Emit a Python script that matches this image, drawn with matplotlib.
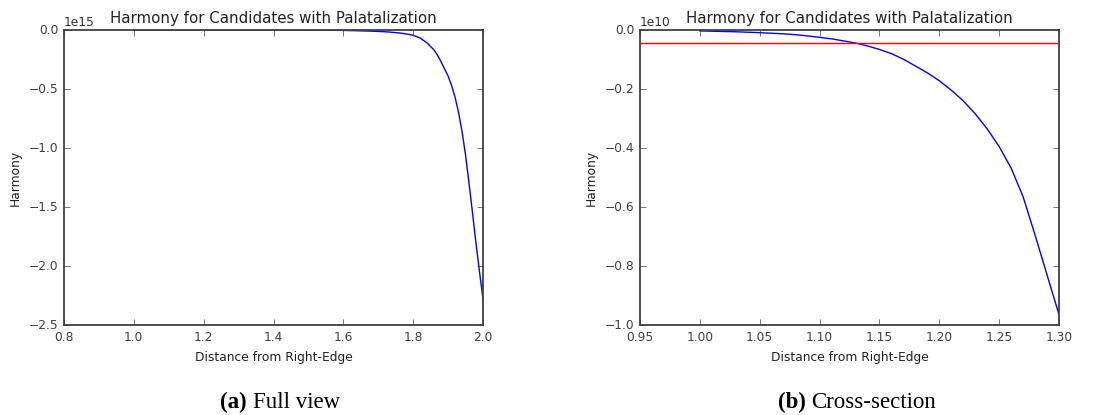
import matplotlib
matplotlib.use("Agg")
import matplotlib.pyplot as plt
import numpy as np

# values
full_x = [1.00, 1.10, 1.20, 1.30, 1.40, 1.50, 1.55, 1.60, 1.65, 1.70, 1.73,
          1.76, 1.78, 1.80, 1.82, 1.84, 1.85, 1.86, 1.87, 1.88, 1.89, 1.90,
          1.91, 1.92, 1.93, 1.94, 1.95, 1.96, 1.97, 1.98, 1.99, 2.00]
full_y = [0.0, -0.000002, -0.00001, -0.00005, -0.0003, -0.001, -0.002,
          -0.0035, -0.007, -0.012, -0.017, -0.025, -0.033, -0.045, -0.068,
          -0.11, -0.14, -0.17, -0.215, -0.27, -0.33, -0.39, -0.47, -0.57,
          -0.70, -0.86, -1.06, -1.30, -1.55, -1.81, -2.05, -2.28]  # x1e15

cross_x = [1.00, 1.01, 1.02, 1.03, 1.04, 1.05, 1.06, 1.07, 1.08, 1.09, 1.10,
           1.11, 1.12, 1.13, 1.14, 1.15, 1.16, 1.17, 1.18, 1.19, 1.20, 1.21,
           1.22, 1.23, 1.24, 1.25, 1.26, 1.27, 1.28, 1.29, 1.30]
cross_y = [-0.003, -0.004, -0.005, -0.006, -0.0075, -0.009, -0.011, -0.013,
           -0.016, -0.020, -0.025, -0.030, -0.037, -0.044, -0.054, -0.066,
           -0.080, -0.099, -0.122, -0.145, -0.172, -0.204, -0.240, -0.284,
           -0.335, -0.395, -0.468, -0.565, -0.695, -0.830, -0.965]  # x1e10
threshold = -0.043  # x1e10

title = "Harmony for Candidates with Palatalization"
xlab = "Distance from Right-Edge"
ylab = "Harmony"
captions = [("(a)", "Full view", 280), ("(b)", "Cross-section", 857)]

plt.style.use("classic")
plt.rcParams["font.family"] = "DejaVu Sans"
plt.rcParams["font.size"] = 8.8
plt.rcParams["axes.edgecolor"] = "#404040"
plt.rcParams["axes.linewidth"] = 1.3
plt.rcParams["xtick.color"] = "#404040"
plt.rcParams["ytick.color"] = "#404040"
plt.rcParams["xtick.labelsize"] = 8.8
plt.rcParams["ytick.labelsize"] = 8.8
plt.rcParams["axes.labelsize"] = 8.8
plt.rcParams["axes.titlesize"] = 10.8

fig = plt.figure(figsize=(11.04, 4.15), dpi=100, facecolor="white")
ax1 = fig.add_axes([64/1104, 1-325/415, 419/1104, 295/415])
ax2 = fig.add_axes([640/1104, 1-325/415, 419/1104, 295/415])

ax1.plot(full_x, np.array(full_y)*1e15, color="blue", lw=1.0)
ax1.set_xlim(0.8, 2.0)
ax1.set_ylim(-2.5e15, 0)

ax2.plot(cross_x, np.array(cross_y)*1e10, color="blue", lw=1.0)
ax2.axhline(threshold*1e10, color="red", lw=1.0)
ax2.set_xlim(0.95, 1.30)
ax2.set_ylim(-1e10, 0)

for ax in (ax1, ax2):
    ax.set_title(title, color="#222222")
    ax.set_xlabel(xlab, color="#222222")
    ax.set_ylabel(ylab, color="#222222")
    ax.yaxis.get_offset_text().set_color("#333333")
    ax.yaxis.get_offset_text().set_fontsize(8.8)

# captions: bold label + regular text, centred under each panel
fig.canvas.draw()
r = fig.canvas.get_renderer()
for lab, txt, cx in captions:
    cy = 415 - 402
    t1 = fig.text(0, 0, lab + " ", fontfamily="Liberation Serif", fontweight="bold",
                  fontsize=16.5, va="center", ha="left", transform=None)
    t2 = fig.text(0, 0, txt, fontfamily="Liberation Serif", fontsize=16.5,
                  va="center", ha="left", transform=None)
    w1 = t1.get_window_extent(r).width
    w2 = t2.get_window_extent(r).width
    x0 = cx - (w1 + w2) / 2
    t1.set_position((x0, cy))
    t2.set_position((x0 + w1, cy))

fig.savefig("out.png", dpi=100, facecolor="white")
